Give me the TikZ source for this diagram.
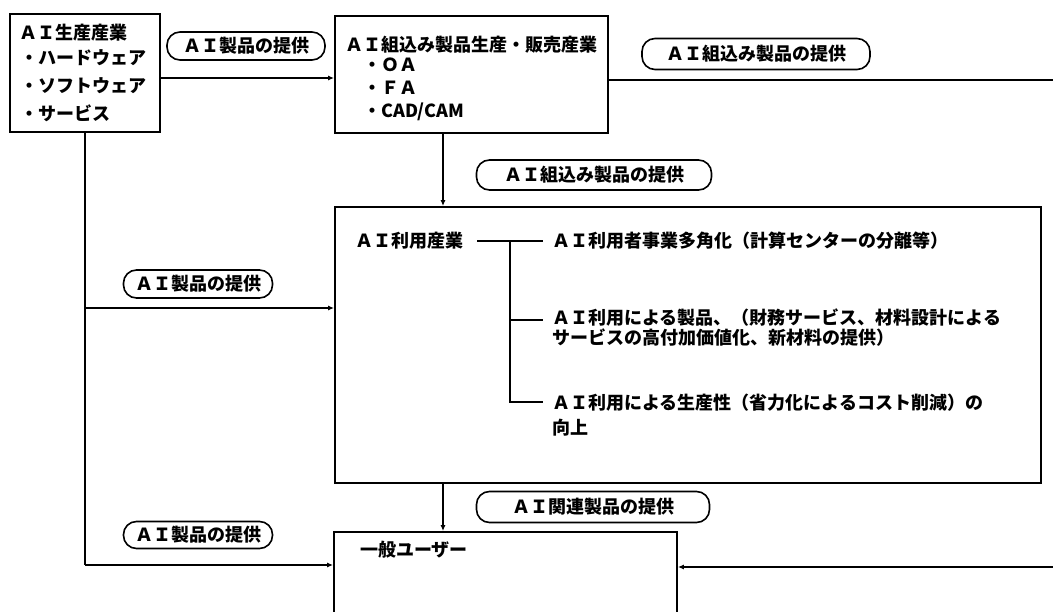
\documentclass[tikz,border=0pt]{standalone}
\usepackage{fontspec}
\setmainfont{Noto Sans CJK JP}
\usetikzlibrary{arrows.meta}
\begin{document}
\begin{tikzpicture}[x=1pt,y=-1pt,
  box/.style={draw, line width=1.8pt, inner sep=0pt, rectangle},
  pill/.style={draw, line width=1.6pt, rounded corners=13pt, inner sep=0pt, font=\fontsize{18}{20}\selectfont\bfseries},
  txt/.style={inner sep=0pt, anchor=west, align=left, font=\fontsize{18}{20}\selectfont\bfseries},
  link/.style={line width=1.4pt},
  arr/.style={link, -{Latex[length=6pt,width=5pt]}}]
\useasboundingbox (0,0) rectangle (1053,612);
\fill[white] (0,0) rectangle (1053,612);
\clip (0,0) rectangle (1053,612);

% boxes
\node[box, minimum width=150pt, minimum height=118pt] (b1) at (85,73) {};
\node[box, minimum width=273pt, minimum height=117pt] (b2) at (471.5,74.5) {};
\node[box, minimum width=706pt, minimum height=276pt] (b3) at (688,345) {};
\node[box, minimum width=343pt, minimum height=118pt] (b4) at (505.5,591) {};

% box 1 text
\node[txt] (t1a) at (19,33) {ＡＩ生産産業};
\node[txt] (t1b) at (20,58) {・ハードウェア};
\node[txt] (t1c) at (20,86) {・ソフトウェア};
\node[txt] (t1d) at (20,113) {・サービス};

% box 2 text
\node[txt] (t2a) at (345,45) {ＡＩ組込み製品生産・販売産業};
\node[txt] (t2b) at (363,65) {・ＯＡ};
\node[txt] (t2c) at (363,88) {・ＦＡ};
\node[txt] (t2d) at (363,112) {・CAD/CAM};

% box 3 text
\node[txt] (u0) at (355,241) {ＡＩ利用産業};
\node[txt] (u1) at (552,241) {ＡＩ利用者事業多角化（計算センターの分離等）};
\node[txt] (u2) at (552,328) {ＡＩ利用による製品、（財務サービス、材料設計による\\サービスの高付加価値化、新材料の提供）};
\node[txt, font=\fontsize{18}{25}\selectfont\bfseries] (u3) at (552,415.5) {ＡＩ利用による生産性（省力化によるコスト削減）の\\向上};

% box 4 text
\node[txt] (t4) at (360,550) {一般ユーザー};

% pills
\node[pill, minimum width=158pt, minimum height=28pt] (p1) at (246,46) {ＡＩ製品の提供};
\node[pill, minimum width=228pt, minimum height=31pt] (p2) at (756,54) {ＡＩ組込み製品の提供};
\node[pill, minimum width=235pt, minimum height=30pt] (p3) at (594,175) {ＡＩ組込み製品の提供};
\node[pill, minimum width=149pt, minimum height=28pt] (p4) at (198,284) {ＡＩ製品の提供};
\node[pill, minimum width=149pt, minimum height=27pt] (p5) at (198,535) {ＡＩ製品の提供};
\node[pill, minimum width=233pt, minimum height=31pt] (p6) at (593,507) {ＡＩ関連製品の提供};

% connectors
\coordinate (j1) at (85,308);
\coordinate (j2) at (85,565);
\coordinate (v1) at (443,0);
\coordinate (e1) at (1053,80);
\coordinate (e2) at (1053,567);

\draw[arr] ([yshift=-5pt]b1.east) -- ([yshift=-5pt]b1.east -| b2.west);
\draw[link] (e1 -| b2.east) -- (e1);
\draw[arr] (v1 |- b2.south) -- (v1 |- b3.north);
\draw[arr] (v1 |- b3.south) -- (v1 |- b4.north);
\draw[link] (b1.south) -- (j2);
\draw[arr] (j1) -- (j1 -| b3.west);
\draw[arr] (j2) -- (j2 -| b4.west);
\draw[arr] (e2) -- (e2 -| b4.east);

% tree inside box 3
\coordinate (tj) at (510,241);
\coordinate (c2) at (543,320);
\coordinate (c3) at (543,402);
\draw[link] ([xshift=14pt]u0.east) -- ([xshift=-9pt]u1.west);
\draw[link] (tj) |- (c3);
\draw[link] (tj |- c2) -- (c2);
\end{tikzpicture}
\end{document}
